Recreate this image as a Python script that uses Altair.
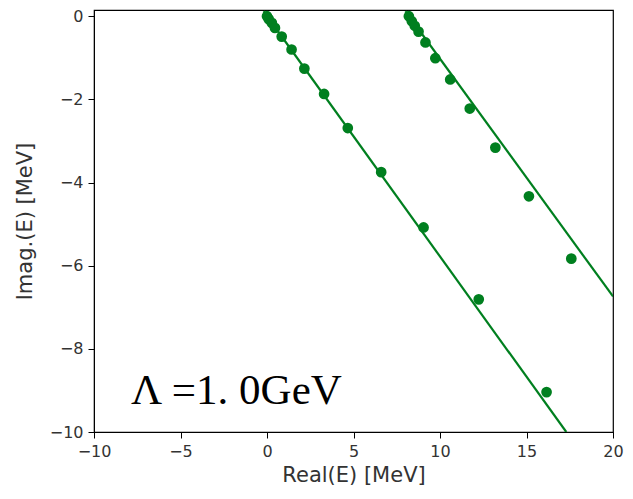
import altair as alt
import pandas as pd

# Series A (left branch)
a_re = [0.0, 0.10, 0.28, 0.46, 0.85, 1.42, 2.16, 3.30, 4.67, 6.60, 9.05, 12.24, 16.16]
a_im = [0.0, -0.07, -0.16, -0.28, -0.49, -0.80, -1.26, -1.87, -2.69, -3.75, -5.08, -6.81, -9.04]
# Series B (right branch)
b_re = [8.20, 8.37, 8.54, 8.76, 9.16, 9.73, 10.59, 11.72, 13.20, 15.14, 17.59]
b_im = [0.0, -0.12, -0.23, -0.37, -0.63, -1.01, -1.52, -2.22, -3.16, -4.33, -5.83]
# Fitted lines (endpoints)
la_re = [-0.2, 17.3]
la_im = [0.12, -10.0]
lb_re = [8.0, 20.0]
lb_im = [0.12, -6.74]

label_text = "Λ =1. 0GeV"

pts = pd.DataFrame({"re": a_re + b_re, "im": a_im + b_im,
                    "s": ["A"] * len(a_re) + ["B"] * len(b_re)})
lines = pd.DataFrame({"re": la_re + lb_re, "im": la_im + lb_im,
                      "s": ["A", "A", "B", "B"]})

green = "#007f1f"
xs = alt.Scale(domain=[-10, 20], nice=False, zero=False)
ys = alt.Scale(domain=[-10, 0.15], nice=False, zero=False)

common = dict(grid=False, labelFontSize=16, titleFontSize=21, labelColor="#333",
              titleColor="#333", tickColor="black", domainColor="black", tickSize=6,
              labelFont="DejaVu Sans", titleFont="DejaVu Sans", titleFontWeight="normal",
              labelFlush=False)
xax = alt.Axis(title="Real(E) [MeV]", values=[-10, -5, 0, 5, 10, 15, 20],
               labelPadding=5, titlePadding=5, **common)
yax = alt.Axis(title="Imag.(E) [MeV]", values=[0, -2, -4, -6, -8, -10],
               labelPadding=5, titlePadding=14, **common)

line_layer = alt.Chart(lines).mark_line(color=green, strokeWidth=2.2, clip=True).encode(
    x=alt.X("re:Q", scale=xs, axis=xax),
    y=alt.Y("im:Q", scale=ys, axis=yax),
    detail="s:N",
)
pt_layer = alt.Chart(pts).mark_circle(color=green, size=115, opacity=1, clip=True).encode(
    x=alt.X("re:Q", scale=xs),
    y=alt.Y("im:Q", scale=ys),
)
txt = alt.Chart(pd.DataFrame({"re": [-7.86], "im": [-9.33], "t": [label_text]})).mark_text(
    align="left", baseline="alphabetic", font="Liberation Serif", fontSize=43, color="black"
).encode(x=alt.X("re:Q", scale=xs), y=alt.Y("im:Q", scale=ys), text="t:N")

chart = alt.layer(line_layer, pt_layer, txt).properties(
    width=519, height=422,
    autosize=alt.AutoSizeParams(type="none"),
    padding={"left": 86, "top": 2, "right": 12, "bottom": 59},
).configure_view(stroke="black", strokeWidth=1.2)

chart.save("out.html", embed_options={"renderer": "svg", "actions": False})
